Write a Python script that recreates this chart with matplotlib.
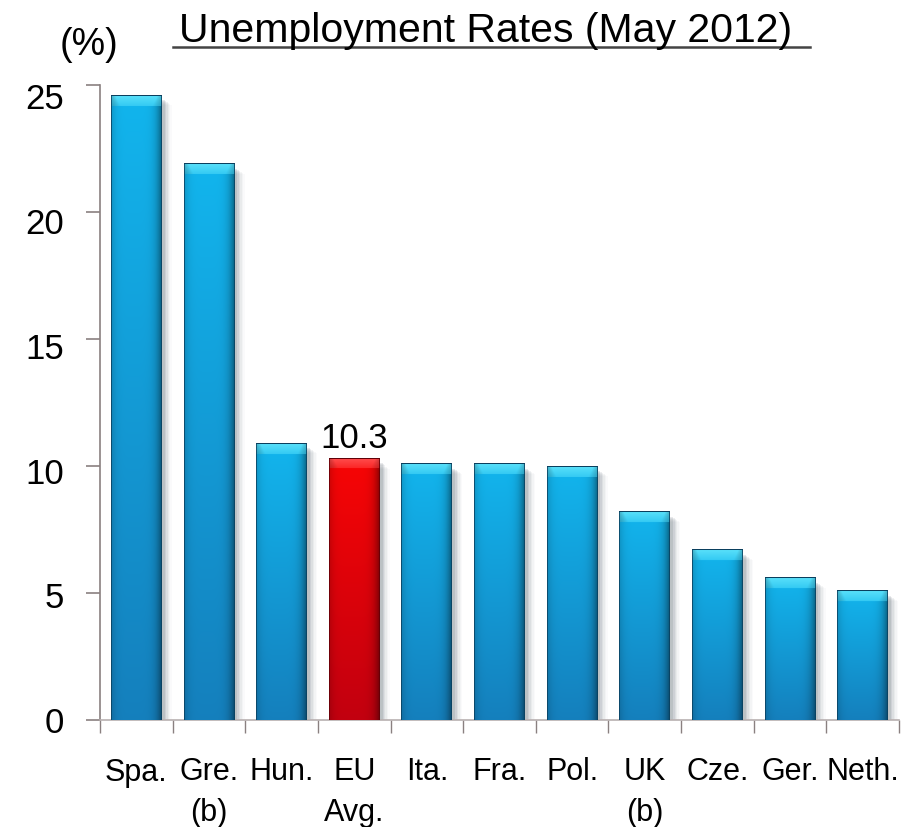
import matplotlib
matplotlib.use("Agg")
import matplotlib.pyplot as plt
import numpy as np
from matplotlib.patches import Rectangle
from matplotlib.lines import Line2D
from matplotlib.transforms import ScaledTranslation

plt.rcParams['font.family'] = ['Liberation Sans', 'DejaVu Sans']

# Unemployment rates, May 2012 (%)
countries = ["Spa.", "Gre.\n(b)", "Hun.", "EU\nAvg.", "Ita.", "Fra.", "Pol.",
             "UK\n(b)", "Cze.", "Ger.", "Neth."]
rates = [24.6, 21.9, 10.9, 10.3, 10.1, 10.1, 10.0, 8.2, 6.7, 5.6, 5.1]
highlight = "EU\nAvg."
yticks = [0, 5, 10, 15, 20, 25]

W, H = 911, 827
fig = plt.figure(figsize=(W / 100, H / 100), dpi=100)
ax = fig.add_axes([100 / W, 1 - 720 / H, 799 / W, 635 / H])

x = np.arange(len(countries))
bar_w = 0.70
colors = ["#e00000" if c == highlight else "#1aa6dc" for c in countries]
bars = ax.bar(x, rates, width=bar_w, color=colors, zorder=3, linewidth=0)

ax.set_xlim(-0.5, len(countries) - 0.5)
ax.set_ylim(0, 25)


def shade(base_light, base_mid, base_dark, top_bevel, height, nrows):
    """Build an RGB gradient for one glossy bar."""
    ncols = 60
    u = np.linspace(0, 1, ncols)
    # horizontal profile: darker at the left and right edges
    hprof = 1 - 0.45 * (np.abs(u - 0.45) / 0.55) ** 5
    v = np.linspace(0, 1, nrows)  # 0 = bottom, 1 = top
    light = np.array(base_light)
    mid = np.array(base_mid)
    dark = np.array(base_dark)
    col = (mid[None, :] * v[:, None] + dark[None, :] * (1 - v[:, None]))
    img = col[:, None, :] * hprof[None, :, None]
    # bevel strip along the top
    bevel_rows = np.clip(int(round(nrows * top_bevel / height)), 1, nrows)
    for k in range(bevel_rows):
        t = k / max(bevel_rows - 1, 1)
        rowcol = light * (1 - 0.5 * t) + mid * (0.5 * t)
        inset = 0.08 + 0.10 * t
        prof = np.where((u > inset) & (u < 1 - inset), 1.0,
                        0.78 + 0.22 * np.clip(np.minimum(u, 1 - u) / inset, 0, 1))
        img[nrows - 1 - k] = rowcol[None, :] * prof[:, None]
    # thin dark outline
    edge = dark * 0.5
    img[:, 0] = edge
    img[:, -1] = edge
    img[-1, :] = edge
    return np.clip(img, 0, 1)


px_per_unit = 635 / 25.0
for rect, c in zip(bars, countries):
    x0 = rect.get_x()
    w = rect.get_width()
    h = rect.get_height()
    # soft drop shadow on the right
    for k, a in enumerate([0.10, 0.08, 0.06, 0.045, 0.03, 0.02]):
        off = (k + 1) * 0.02
        ax.add_patch(Rectangle((x0 + 0.02 + off, 0), w, h - 0.2 - k * 0.04,
                               facecolor="#203040", alpha=a, linewidth=0, zorder=2))
    nrows = max(int(h * px_per_unit), 4)
    if c == highlight:
        img = shade((1.0, 0.30, 0.30), (0.97, 0.02, 0.02), (0.76, 0.0, 0.06),
                    0.40, h, nrows)
    else:
        img = shade((0.35, 0.88, 0.98), (0.07, 0.71, 0.93), (0.08, 0.50, 0.74),
                    0.45, h, nrows)
    ax.imshow(img, extent=(x0, x0 + w, 0, h), origin="lower", aspect="auto",
              interpolation="bilinear", zorder=3)

ax.set_xlim(-0.5, len(countries) - 0.5)
ax.set_ylim(0, 25)

# value label on the highlighted bar
i_hl = countries.index(highlight)
ax.text(x[i_hl], rates[i_hl] + 0.4, f"{rates[i_hl]:.1f}", ha="center",
        va="baseline", fontsize=25, zorder=5)

for s in ["top", "right"]:
    ax.spines[s].set_visible(False)
ax.spines["left"].set_color("#8a8080")
ax.spines["left"].set_linewidth(1.2)
ax.spines["bottom"].set_color("#b8b0b0")
ax.spines["bottom"].set_linewidth(1.2)

ax.set_yticks(yticks)
ax.set_yticklabels([str(t) for t in yticks], fontsize=25)
ax.tick_params(axis="y", length=10, width=1.2, color="#8a8080", pad=16)
# upper value labels sit a little below their tick marks
for lab, t in zip(ax.get_yticklabels(), yticks):
    lab.set_transform(lab.get_transform() +
                      ScaledTranslation(0, -0.0045 * t, fig.dpi_scale_trans))

ax.set_xticks(x)
ax.set_xticklabels(countries, fontsize=22, linespacing=1.45)
ax.set_xticks(np.arange(len(countries) + 1) - 0.5, minor=True)
ax.tick_params(axis="x", which="major", length=0, pad=27)
ax.tick_params(axis="x", which="minor", length=9, width=1.0, color="#8a8080")

# title with underline and unit label
fig.text(486 / W, 1 - 42 / H, "Unemployment Rates (May 2012)", ha="center",
         va="baseline", fontsize=29.5)
fig.add_artist(Line2D([173 / W, 810 / W], [1 - 46.5 / H, 1 - 46.5 / H],
                      transform=fig.transFigure, color="#444444", linewidth=1.8))
fig.text(88.5 / W, 1 - 55 / H, "(%)", ha="center", va="baseline", fontsize=27)

fig.savefig("out.png", dpi=100, facecolor="white")
